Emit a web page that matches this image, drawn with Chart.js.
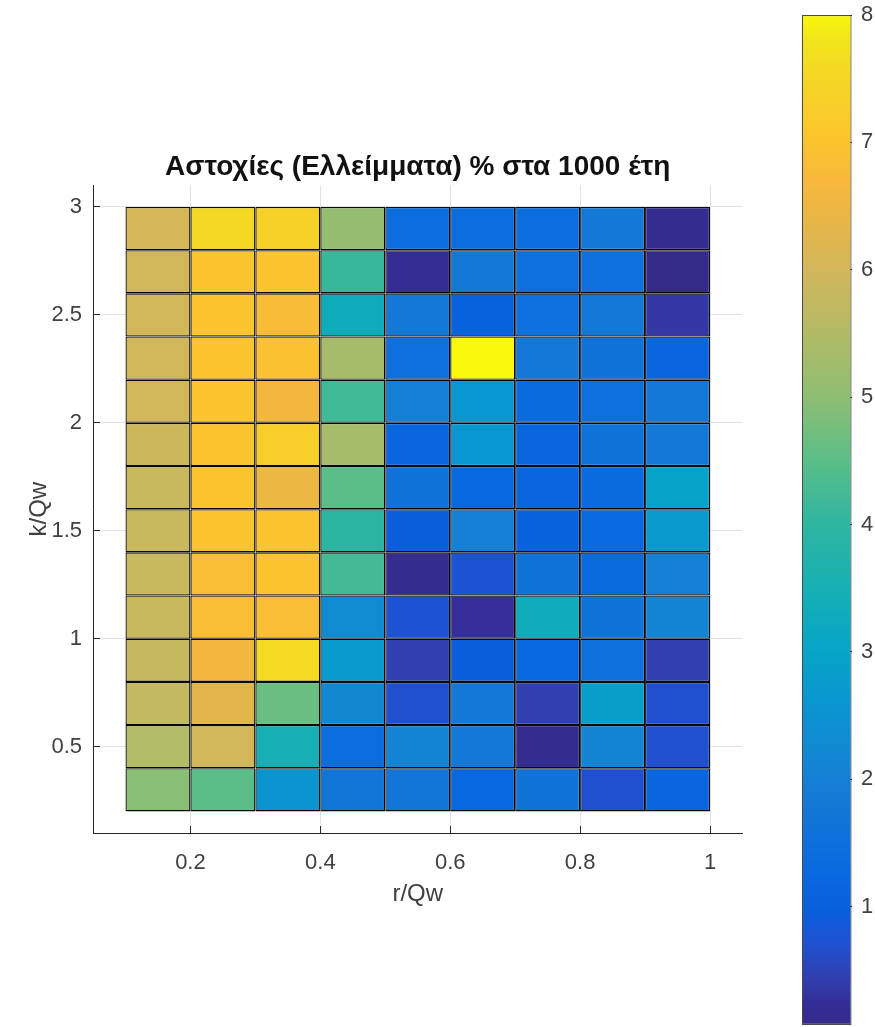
<!DOCTYPE html>
<html>
<head>
<meta charset="utf-8">
<script src="https://cdn.jsdelivr.net/npm/chart.js@4.4.1/dist/chart.umd.min.js"></script>
<style>
html,body{margin:0;padding:0;background:#ffffff;}
#wrap{position:relative;width:875px;height:1027px;overflow:hidden;}
#main{position:absolute;left:0;top:0;}
#cbar{position:absolute;left:780px;top:0;}
</style>
</head>
<body>
<div id="wrap">
<canvas id="main" width="875" height="1027"></canvas>
<canvas id="cbar" width="95" height="1027"></canvas>
</div>
<script>
// ---- data ----
const titleText = 'Αστοχίες (Ελλείμματα) % στα 1000 έτη';
const xLabel = 'r/Qw';
const yLabel = 'k/Qw';
const rEdges = [0.1, 0.2, 0.3, 0.4, 0.5, 0.6, 0.7, 0.8, 0.9, 1.0];
const kEdges = [0.2, 0.4, 0.6, 0.8, 1.0, 1.2, 1.4, 1.6, 1.8, 2.0, 2.2, 2.4, 2.6, 2.8, 3.0];
const xTicks = [0.2, 0.4, 0.6, 0.8, 1];
const yTicks = [0.5, 1, 1.5, 2, 2.5, 3];
const cbTicks = [1, 2, 3, 4, 5, 6, 7, 8];
const cLimits = [0.07, 8.0];
// failure percentage, one row per k band (from k = 0.2-0.4 up to k = 2.8-3.0), columns r = 0.1-0.2 ... 0.9-1.0
const failPct = [
  [4.95, 4.5, 2.55, 1.7, 1.7, 1.25, 1.6, 0.7, 1.2],   // 0.2-0.4
  [5.5, 6.0, 3.5, 1.4, 2.1, 1.8, 0.15, 2.1, 0.7],     // 0.4-0.6
  [5.75, 6.3, 4.65, 2.2, 0.7, 1.8, 0.45, 2.85, 0.7],  // 0.6-0.8
  [5.8, 6.6, 7.6, 2.7, 0.45, 0.95, 1.25, 1.55, 0.45], // 0.8-1.0
  [5.85, 6.85, 6.85, 2.3, 0.75, 0.25, 3.3, 1.6, 2.1], // 1.0-1.2
  [5.85, 6.85, 7.0, 4.25, 0.15, 0.75, 1.6, 1.35, 2.0],// 1.2-1.4
  [5.85, 7.0, 7.0, 3.95, 0.95, 2.0, 1.1, 1.3, 2.7],   // 1.4-1.6
  [5.85, 7.0, 6.5, 4.5, 1.6, 1.25, 1.2, 1.35, 2.95],  // 1.6-1.8
  [5.9, 7.0, 7.3, 5.35, 1.2, 2.6, 1.2, 1.6, 1.8],     // 1.8-2.0
  [6.0, 7.0, 6.6, 4.2, 2.0, 2.6, 1.35, 1.5, 1.8],     // 2.0-2.2
  [6.0, 7.0, 6.95, 5.35, 1.5, 8.0, 1.8, 1.6, 1.2],    // 2.2-2.4
  [6.0, 7.0, 6.8, 3.3, 1.8, 1.1, 1.5, 1.8, 0.35],     // 2.4-2.6
  [6.0, 7.0, 7.0, 4.1, 0.2, 1.8, 1.5, 1.5, 0.07],     // 2.6-2.8
  [6.05, 7.55, 7.35, 5.1, 1.4, 1.4, 1.4, 1.8, 0.15]   // 2.8-3.0
];
// colour map (parula-like, as rendered in the figure)
const cmapValues = [0.07, 0.25, 0.45, 0.7, 0.95, 1.25, 1.5, 1.8, 2.1, 2.6, 3.0, 3.4, 4.0, 4.5, 5.0, 5.5, 6.0, 6.4, 6.7, 7.0, 7.5, 7.8, 8.0];
const cmapColors = ['#342a88', '#332e98', '#3040b0', '#2050d0', '#0a5edc', '#0868e0', '#0e70dc', '#1478d6', '#1484d4', '#0a96d0', '#06a4c8', '#12aeb8', '#2eb6a0', '#5abe88', '#8ebe72', '#b2bb66', '#d2b65a', '#e8b646', '#f8b83c', '#fcc42e', '#f5d624', '#f2e41c', '#f7f80c'];

// ---- helpers ----
function hexToRgb(h) {
  return [parseInt(h.slice(1, 3), 16), parseInt(h.slice(3, 5), 16), parseInt(h.slice(5, 7), 16)];
}
function colorFor(v) {
  const n = cmapValues.length;
  if (v <= cmapValues[0]) return cmapColors[0];
  if (v >= cmapValues[n - 1]) return cmapColors[n - 1];
  for (let i = 0; i < n - 1; i++) {
    if (v >= cmapValues[i] && v <= cmapValues[i + 1]) {
      const t = (v - cmapValues[i]) / (cmapValues[i + 1] - cmapValues[i]);
      const a = hexToRgb(cmapColors[i]), b = hexToRgb(cmapColors[i + 1]);
      const c = a.map((x, k) => Math.round(x + (b[k] - x) * t));
      return 'rgb(' + c.join(',') + ')';
    }
  }
  return cmapColors[n - 1];
}
const plainLabel = v => String(v);

const cells = [];
const cellColors = [];
failPct.forEach((row, i) => {
  row.forEach((v, j) => {
    cells.push({ x: (rEdges[j] + rEdges[j + 1]) / 2, y: [kEdges[i], kEdges[i + 1]], v: v });
    cellColors.push(colorFor(v));
  });
});

Chart.defaults.font.family = '"Liberation Sans", Arial, Helvetica, sans-serif';
Chart.defaults.color = '#404040';

// ---- main heat map ----
new Chart(document.getElementById('main'), {
  type: 'bar',
  data: {
    datasets: [{
      data: cells,
      backgroundColor: cellColors,
      borderColor: '#0a0a0a',
      borderWidth: 1.3,
      borderSkipped: false,
      barPercentage: 1,
      categoryPercentage: 1,
      inflateAmount: 0
    }]
  },
  options: {
    responsive: false,
    animation: false,
    events: [],
    layout: { autoPadding: false, padding: { left: 24.8, top: 150, right: 132.5, bottom: 116.8 } },
    plugins: {
      legend: { display: false },
      tooltip: { enabled: false },
      title: {
        display: true,
        text: titleText,
        fullSize: false,
        color: '#111111',
        font: { size: 28, weight: 'bold' },
        padding: { top: 0, bottom: 1.8 }
      }
    },
    scales: {
      x: {
        type: 'linear',
        min: 0.05,
        max: 1.05,
        offset: false,
        afterBuildTicks: s => { s.ticks = xTicks.map(v => ({ value: v })); },
        afterFit: s => { s.height = 77.2; s.paddingLeft = 0; s.paddingRight = 0; },
        grid: { color: '#e2e2e2', tickColor: '#262626', tickLength: -7, offset: false },
        border: { display: true, color: '#262626', width: 1 },
        ticks: { padding: 23.8, color: '#404040', font: { size: 22 }, maxRotation: 0, callback: plainLabel },
        title: { display: true, text: xLabel, color: '#404040', font: { size: 24 }, padding: { top: 0, bottom: 1 } }
      },
      y: {
        type: 'linear',
        min: 0.1,
        max: 3.1,
        beginAtZero: false,
        afterBuildTicks: s => { s.ticks = yTicks.map(v => ({ value: v })); },
        afterFit: s => { s.width = 68.2; s.paddingTop = 0; s.paddingBottom = 0; },
        grid: { color: '#e2e2e2', tickColor: '#262626', tickLength: -7 },
        border: { display: true, color: '#262626', width: 1 },
        ticks: { padding: 18, color: '#404040', font: { size: 22 }, callback: plainLabel },
        title: { display: true, text: yLabel, color: '#404040', font: { size: 24 }, padding: { top: 0, bottom: 0 } }
      }
    }
  }
});

// ---- colour bar ----
new Chart(document.getElementById('cbar'), {
  type: 'bar',
  data: {
    labels: ['c'],
    datasets: [{
      data: [cLimits],
      backgroundColor: (ctx) => {
        const chart = ctx.chart;
        if (!chart.chartArea) return cmapColors[0];
        const ys = chart.scales.y;
        const last = cmapValues.length - 1;
        const g = chart.ctx.createLinearGradient(0, ys.getPixelForValue(cmapValues[0]), 0, ys.getPixelForValue(cmapValues[last]));
        cmapValues.forEach((v, i) => {
          g.addColorStop((v - cmapValues[0]) / (cmapValues[last] - cmapValues[0]), cmapColors[i]);
        });
        return g;
      },
      borderColor: '#4a4a4a',
      borderWidth: 1.3,
      borderSkipped: false,
      barPercentage: 1,
      categoryPercentage: 1,
      inflateAmount: 0
    }]
  },
  options: {
    responsive: false,
    animation: false,
    events: [],
    layout: { autoPadding: false, padding: { left: 21.7, top: 15, right: 0, bottom: 2 } },
    plugins: { legend: { display: false }, tooltip: { enabled: false } },
    scales: {
      x: { display: false },
      y: {
        position: 'right',
        min: cLimits[0],
        max: cLimits[1],
        beginAtZero: false,
        z: 1,
        afterBuildTicks: s => { s.ticks = cbTicks.map(v => ({ value: v })); },
        afterFit: s => { s.width = 23.3; s.paddingTop = 0; s.paddingBottom = 0; },
        grid: { drawOnChartArea: false, tickColor: '#262626', tickLength: -7 },
        border: { display: false },
        ticks: { padding: 16.3, color: '#404040', font: { size: 22 }, callback: plainLabel }
      }
    }
  }
});
</script>
</body>
</html>
